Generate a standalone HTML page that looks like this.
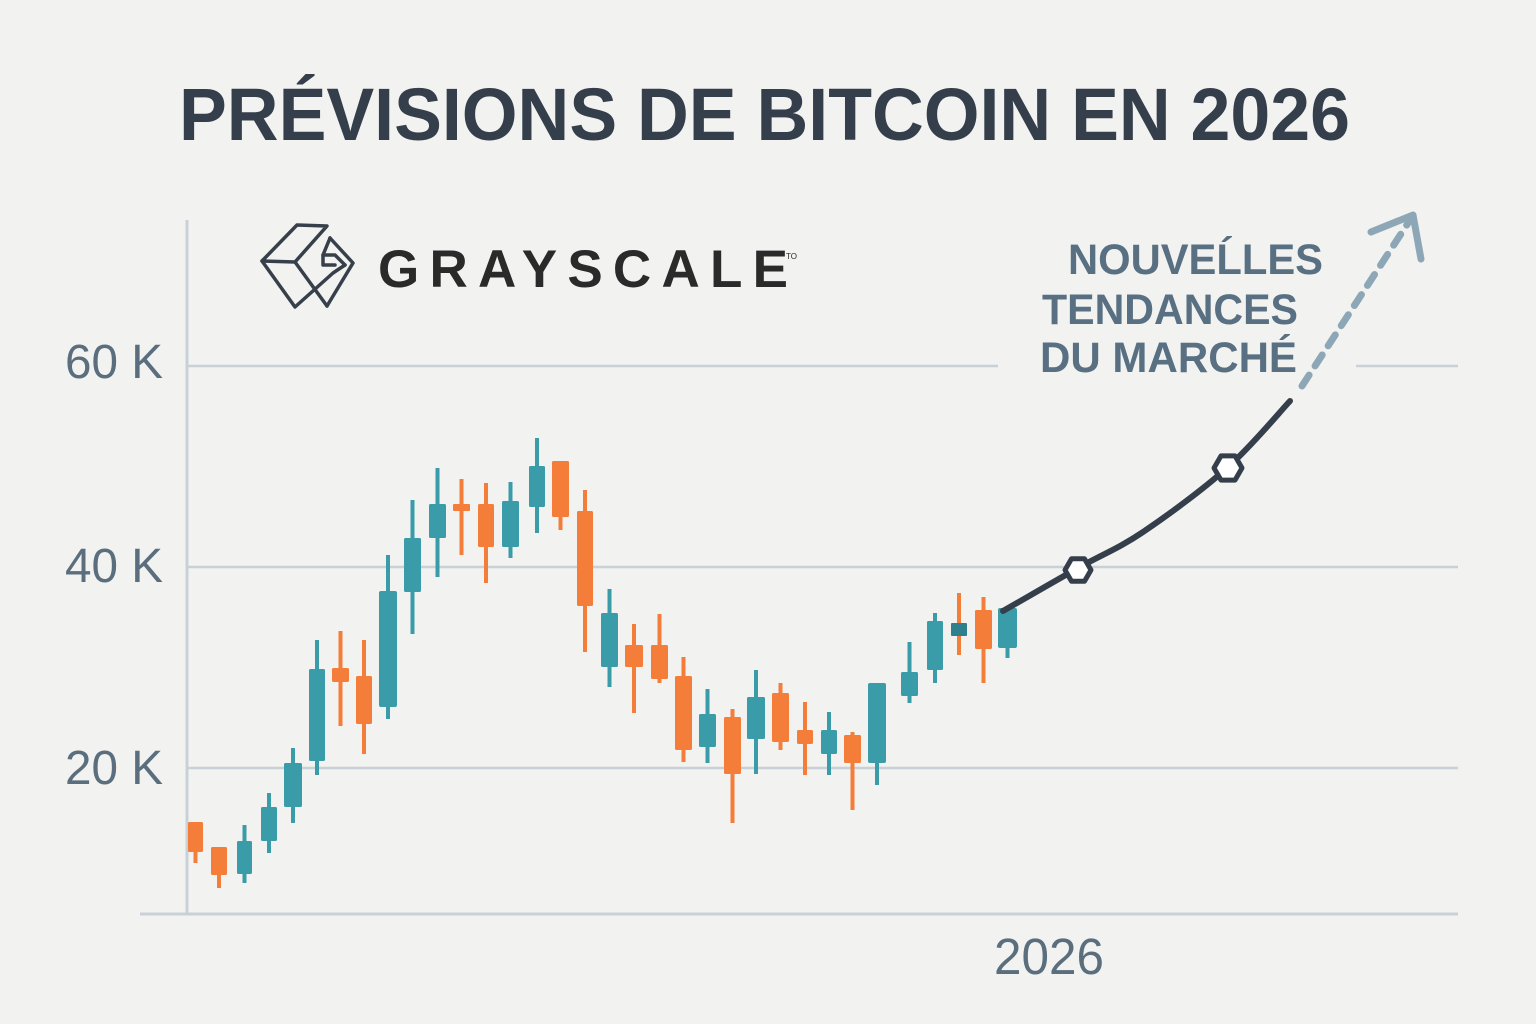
<!DOCTYPE html>
<html>
<head>
<meta charset="utf-8">
<style>
html,body{margin:0;padding:0;background:#f2f2f1;}
svg{display:block;}
</style>
</head>
<body>
<svg width="1536" height="1024" viewBox="0 0 1536 1024" xmlns="http://www.w3.org/2000/svg">
<rect x="0" y="0" width="1536" height="1024" fill="#f2f2f1"/>

<!-- Title -->
<text x="179" y="140" font-family="Liberation Sans, Arial, sans-serif" font-weight="bold" font-size="74" fill="#343f4b" textLength="1171" lengthAdjust="spacingAndGlyphs">PRÉVISIONS DE BITCOIN EN 2026</text>

<!-- Grid lines -->
<g stroke="#c9d1d8" stroke-width="2.5" fill="none">
  <line x1="188" y1="366" x2="998" y2="366"/>
  <line x1="1356" y1="366" x2="1458" y2="366"/>
  <line x1="188" y1="567" x2="1458" y2="567"/>
  <line x1="188" y1="768" x2="1458" y2="768"/>
  <line x1="140" y1="914" x2="1458" y2="914" stroke-width="3"/>
  <line x1="187" y1="220" x2="187" y2="914" stroke-width="3"/>
</g>

<!-- Y labels -->
<g font-family="Liberation Sans, Arial, sans-serif" font-size="48" fill="#5a6e7d">
  <text x="65" y="378" textLength="98" lengthAdjust="spacingAndGlyphs">60 K</text>
  <text x="65" y="582" textLength="98" lengthAdjust="spacingAndGlyphs">40 K</text>
  <text x="65" y="784" textLength="98" lengthAdjust="spacingAndGlyphs">20 K</text>
</g>
<text x="994" y="974" font-family="Liberation Sans, Arial, sans-serif" font-size="51" fill="#5a6e7d" textLength="110" lengthAdjust="spacingAndGlyphs">2026</text>

<!-- Logo -->
<g stroke="#37404a" stroke-width="3.5" fill="none" stroke-linejoin="round" stroke-linecap="round">
  <polygon points="262,261 297,225 327,226 295,262"/>
  <polyline points="262,261 295,307 333,273 345,265"/>
  <line x1="295" y1="262" x2="327" y2="306"/>
  <polyline points="330,238 353,263 327,306"/>
  <polyline points="330,238 323,255 323,265 335,265"/>
  <polyline points="323,255 335,255 345,265"/>
</g>
<text x="378" y="287" font-family="Liberation Sans, Arial, sans-serif" font-weight="bold" font-size="53" fill="#2a2a2a" textLength="410" lengthAdjust="spacing">GRAYSCALE</text>
<text x="786" y="259" font-family="Liberation Sans, Arial, sans-serif" font-size="8" fill="#2a2a2a">TO</text>

<!-- Annotation -->
<g font-family="Liberation Sans, Arial, sans-serif" font-weight="bold" font-size="43" fill="#587082">
  <text x="1068" y="274" textLength="255" lengthAdjust="spacingAndGlyphs">NOUVEĹLES</text>
  <text x="1042" y="324" textLength="256" lengthAdjust="spacingAndGlyphs">TENDANCES</text>
  <text x="1040" y="372" textLength="257" lengthAdjust="spacingAndGlyphs">DU MARCHÉ</text>
</g>

<!-- Candles -->
<g id="candles">
  <g stroke-width="4">
    <line x1="195.5" y1="822" x2="195.5" y2="863" stroke="#f47d3a"/>
    <line x1="219" y1="847" x2="219" y2="888" stroke="#f47d3a"/>
    <line x1="244.5" y1="825" x2="244.5" y2="883" stroke="#3a9ca8"/>
    <line x1="269" y1="793" x2="269" y2="853" stroke="#3a9ca8"/>
    <line x1="293" y1="748" x2="293" y2="823" stroke="#3a9ca8"/>
    <line x1="317" y1="640" x2="317" y2="775" stroke="#3a9ca8"/>
    <line x1="340.5" y1="631" x2="340.5" y2="726" stroke="#f47d3a"/>
    <line x1="364" y1="640" x2="364" y2="754" stroke="#f47d3a"/>
    <line x1="388" y1="555" x2="388" y2="719" stroke="#3a9ca8"/>
    <line x1="412.5" y1="500" x2="412.5" y2="634" stroke="#3a9ca8"/>
    <line x1="437.5" y1="468" x2="437.5" y2="577" stroke="#3a9ca8"/>
    <line x1="461.5" y1="479" x2="461.5" y2="555" stroke="#f47d3a"/>
    <line x1="486" y1="483" x2="486" y2="583" stroke="#f47d3a"/>
    <line x1="510.5" y1="482" x2="510.5" y2="558" stroke="#3a9ca8"/>
    <line x1="537" y1="438" x2="537" y2="533" stroke="#3a9ca8"/>
    <line x1="560.5" y1="461" x2="560.5" y2="530" stroke="#f47d3a"/>
    <line x1="585" y1="490" x2="585" y2="652" stroke="#f47d3a"/>
    <line x1="609.5" y1="589" x2="609.5" y2="687" stroke="#3a9ca8"/>
    <line x1="634" y1="624" x2="634" y2="713" stroke="#f47d3a"/>
    <line x1="659.5" y1="614" x2="659.5" y2="683" stroke="#f47d3a"/>
    <line x1="683.5" y1="657" x2="683.5" y2="762" stroke="#f47d3a"/>
    <line x1="707.5" y1="689" x2="707.5" y2="763" stroke="#3a9ca8"/>
    <line x1="732.5" y1="709" x2="732.5" y2="823" stroke="#f47d3a"/>
    <line x1="756" y1="670" x2="756" y2="774" stroke="#3a9ca8"/>
    <line x1="780.5" y1="683" x2="780.5" y2="750" stroke="#f47d3a"/>
    <line x1="805" y1="702" x2="805" y2="775" stroke="#f47d3a"/>
    <line x1="829" y1="712" x2="829" y2="775" stroke="#3a9ca8"/>
    <line x1="852.5" y1="732" x2="852.5" y2="810" stroke="#f47d3a"/>
    <line x1="877" y1="683" x2="877" y2="785" stroke="#3a9ca8"/>
    <line x1="909.5" y1="642" x2="909.5" y2="703" stroke="#3a9ca8"/>
    <line x1="935" y1="613" x2="935" y2="683" stroke="#3a9ca8"/>
    <line x1="959" y1="593" x2="959" y2="655" stroke="#f47d3a"/>
    <line x1="983.5" y1="597" x2="983.5" y2="683" stroke="#f47d3a"/>
    <line x1="1007.5" y1="608" x2="1007.5" y2="658" stroke="#3a9ca8"/>
  </g>
  <g>
    <rect x="188" y="822" width="15" height="30" rx="1.5" fill="#f47d3a"/>
    <rect x="211" y="847" width="16" height="28" rx="1.5" fill="#f47d3a"/>
    <rect x="237" y="841" width="15" height="33" rx="1.5" fill="#3a9ca8"/>
    <rect x="261" y="807" width="16" height="34" rx="1.5" fill="#3a9ca8"/>
    <rect x="284" y="763" width="18" height="44" rx="1.5" fill="#3a9ca8"/>
    <rect x="309" y="669" width="16" height="92" rx="1.5" fill="#3a9ca8"/>
    <rect x="332" y="668" width="17" height="14" rx="1.5" fill="#f47d3a"/>
    <rect x="356" y="676" width="16" height="48" rx="1.5" fill="#f47d3a"/>
    <rect x="379" y="591" width="18" height="116" rx="2" fill="#3a9ca8"/>
    <rect x="404" y="538" width="17" height="54" rx="1.5" fill="#3a9ca8"/>
    <rect x="429" y="504" width="17" height="34" rx="1.5" fill="#3a9ca8"/>
    <rect x="453" y="504" width="17" height="7" rx="1" fill="#f47d3a"/>
    <rect x="478" y="504" width="16" height="43" rx="1.5" fill="#f47d3a"/>
    <rect x="502" y="501" width="17" height="46" rx="1.5" fill="#3a9ca8"/>
    <rect x="529" y="466" width="16" height="41" rx="1.5" fill="#3a9ca8"/>
    <rect x="552" y="461" width="17" height="56" rx="1.5" fill="#f47d3a"/>
    <rect x="577" y="511" width="16" height="95" rx="1.5" fill="#f47d3a"/>
    <rect x="601" y="613" width="17" height="54" rx="1.5" fill="#3a9ca8"/>
    <rect x="625" y="645" width="18" height="22" rx="1.5" fill="#f47d3a"/>
    <rect x="651" y="645" width="17" height="34" rx="1.5" fill="#f47d3a"/>
    <rect x="675" y="676" width="17" height="74" rx="1.5" fill="#f47d3a"/>
    <rect x="699" y="714" width="17" height="33" rx="1.5" fill="#3a9ca8"/>
    <rect x="724" y="717" width="17" height="57" rx="1.5" fill="#f47d3a"/>
    <rect x="747" y="697" width="18" height="42" rx="1.5" fill="#3a9ca8"/>
    <rect x="772" y="693" width="17" height="49" rx="1.5" fill="#f47d3a"/>
    <rect x="797" y="730" width="16" height="14" rx="1.5" fill="#f47d3a"/>
    <rect x="821" y="730" width="16" height="24" rx="1.5" fill="#3a9ca8"/>
    <rect x="844" y="735" width="17" height="28" rx="1.5" fill="#f47d3a"/>
    <rect x="868" y="683" width="18" height="80" rx="2" fill="#3a9ca8"/>
    <rect x="901" y="672" width="17" height="24" rx="1.5" fill="#3a9ca8"/>
    <rect x="927" y="621" width="16" height="49" rx="1.5" fill="#3a9ca8"/>
    <rect x="951" y="623" width="16" height="13" rx="1" fill="#2f7f8c"/>
    <rect x="975" y="610" width="17" height="39" rx="1.5" fill="#f47d3a"/>
    <rect x="998" y="608" width="19" height="40" rx="2" fill="#3a9ca8"/>
  </g>
</g>

<!-- Forecast dashed arrow -->
<g stroke="#8ea7b6" stroke-width="7" fill="none" stroke-linecap="round" stroke-linejoin="round">
  <line x1="1302" y1="386" x2="1410" y2="220" stroke-dasharray="13 11"/>
  <polyline points="1371,232 1413,215 1421,259"/>
</g>

<!-- Forecast line -->
<path d="M1003,611 C1015.5,603.8 1054.7,581.2 1078,568 C1101.3,554.8 1118.2,548.7 1143,532 C1167.8,515.3 1202.5,489.8 1227,468 C1251.5,446.2 1279.5,412.2 1290,401" stroke="#353f4b" stroke-width="6" fill="none" stroke-linecap="round"/>

<!-- Hex markers -->
<polygon points="1091,570 1084.5,558.7 1071.5,558.7 1065,570 1071.5,581.3 1084.5,581.3" fill="#ffffff" stroke="#353f4b" stroke-width="5" stroke-linejoin="round"/>
<polygon points="1242,468 1235,455.9 1221,455.9 1214,468 1221,480.1 1235,480.1" fill="#ffffff" stroke="#353f4b" stroke-width="5" stroke-linejoin="round"/>
</svg>
</body>
</html>
